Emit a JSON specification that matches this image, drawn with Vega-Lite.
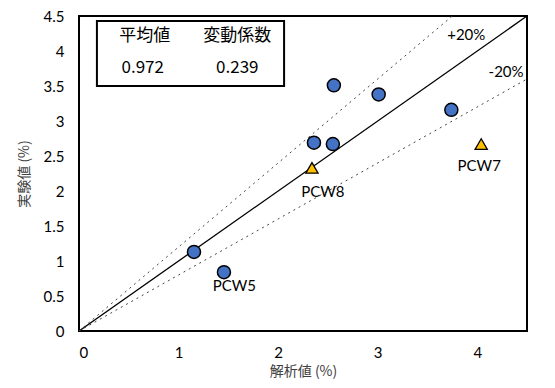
{
  "$schema": "https://vega.github.io/schema/vega-lite/v6.json",
  "width": 448,
  "height": 315,
  "autosize": "none",
  "padding": {"left": 79, "top": 16, "right": 28, "bottom": 57},
  "background": "white",
  "config": {
    "view": {"stroke": "black", "strokeWidth": 2},
    "font": "Noto Sans CJK JP",
    "axis": {"grid": false, "ticks": false, "domain": false, "labelOverlap": false, "labelFont": "Lato", "labelFontSize": 15, "labelColor": "#000", "titleFont": "Noto Sans CJK JP", "titleFontSize": 14, "titleFontWeight": "normal", "titleColor": "#404040"}
  },
  "datasets": {
    "pts": [
      {"ana": 1.155, "exp": 1.13, "type": "other"},
      {"ana": 1.456, "exp": 0.84, "type": "other"},
      {"ana": 2.36, "exp": 2.69, "type": "other"},
      {"ana": 2.55, "exp": 2.67, "type": "other"},
      {"ana": 2.56, "exp": 3.51, "type": "other"},
      {"ana": 3.01, "exp": 3.38, "type": "other"},
      {"ana": 3.74, "exp": 3.16, "type": "other"},
      {"ana": 2.34, "exp": 2.33, "type": "tri"},
      {"ana": 4.04, "exp": 2.67, "type": "tri"}
    ],
    "lines": [
      {"s": "eq", "ana": 0, "exp": 0},
      {"s": "eq", "ana": 4.5, "exp": 4.5},
      {"s": "p20", "ana": 0, "exp": 0},
      {"s": "p20", "ana": 3.75, "exp": 4.5},
      {"s": "m20", "ana": 0, "exp": 0},
      {"s": "m20", "ana": 4.5, "exp": 3.6}
    ],
    "notes": [
      {"t": "+20%", "ana": 3.89, "exp": 4.23, "al": "center"},
      {"t": "-20%", "ana": 4.29, "exp": 3.7, "al": "center"},
      {"t": "PCW5", "ana": 1.56, "exp": 0.64, "al": "left"},
      {"t": "PCW8", "ana": 2.45, "exp": 1.98, "al": "center"},
      {"t": "PCW7", "ana": 4.02, "exp": 2.36, "al": "center"}
    ],
    "box": [{"ana": 0.18, "ana2": 2.06, "exp": 3.5, "exp2": 4.43}],
    "stats": [
      {"t": "平均値", "ana": 0.66, "exp": 4.22, "f": "Noto Sans CJK JP"},
      {"t": "変動係数", "ana": 1.59, "exp": 4.22, "f": "Noto Sans CJK JP"},
      {"t": "0.972", "ana": 0.64, "exp": 3.76, "f": "Lato"},
      {"t": "0.239", "ana": 1.59, "exp": 3.76, "f": "Lato"}
    ]
  },
  "encoding": {
    "x": {"field": "ana", "type": "quantitative", "scale": {"domain": [0, 4.5]}, "axis": {"title": "解析値 (%)", "values": [0, 1, 2, 3, 4], "labelPadding": 14, "titlePadding": 4}},
    "y": {"field": "exp", "type": "quantitative", "scale": {"domain": [0, 4.5]}, "axis": {"title": "実験値 (%)", "values": [0, 0.5, 1, 1.5, 2, 2.5, 3, 3.5, 4, 4.5], "tickCount": 10, "labelOverlap": false, "labelPadding": 15, "titlePadding": 12, "labelExpr": "'' + datum.value"}}
  },
  "layer": [
    {
      "data": {"name": "lines"},
      "transform": [{"filter": "datum.s == 'eq'"}],
      "mark": {"type": "line", "color": "black", "strokeWidth": 1.3, "clip": true},
      "encoding": {"detail": {"field": "s"}}
    },
    {
      "data": {"name": "lines"},
      "transform": [{"filter": "datum.s != 'eq'"}],
      "mark": {"type": "line", "color": "#444", "strokeWidth": 1, "strokeDash": [2, 4], "clip": true},
      "encoding": {"detail": {"field": "s"}}
    },
    {
      "data": {"name": "box"},
      "mark": {"type": "rect", "fill": "white", "stroke": "black", "strokeWidth": 2},
      "encoding": {"x2": {"field": "ana2"}, "y2": {"field": "exp2"}}
    },
    {
      "data": {"name": "stats"},
      "mark": {"type": "text", "fontSize": 17, "color": "black", "baseline": "middle"},
      "encoding": {
        "text": {"field": "t"},
        "font": {"field": "f", "type": "nominal", "scale": null}
      }
    },
    {
      "data": {"name": "notes"},
      "mark": {"type": "text", "fontSize": 15, "font": "Lato", "color": "black", "baseline": "middle"},
      "encoding": {
        "text": {"field": "t"},
        "align": {"field": "al", "type": "nominal", "scale": null}
      }
    },
    {
      "data": {"name": "pts"},
      "transform": [{"filter": "datum.type == 'other'"}],
      "mark": {"type": "point", "shape": "circle", "filled": true, "fill": "#4472C4", "stroke": "black", "strokeWidth": 1.5, "size": 170, "opacity": 1},
      "encoding": {}
    },
    {
      "data": {"name": "pts"},
      "transform": [{"filter": "datum.type == 'tri'"}],
      "mark": {"type": "point", "shape": "triangle-up", "filled": true, "fill": "#FFC000", "stroke": "black", "strokeWidth": 1.3, "size": 150, "opacity": 1},
      "encoding": {}
    }
  ]
}
